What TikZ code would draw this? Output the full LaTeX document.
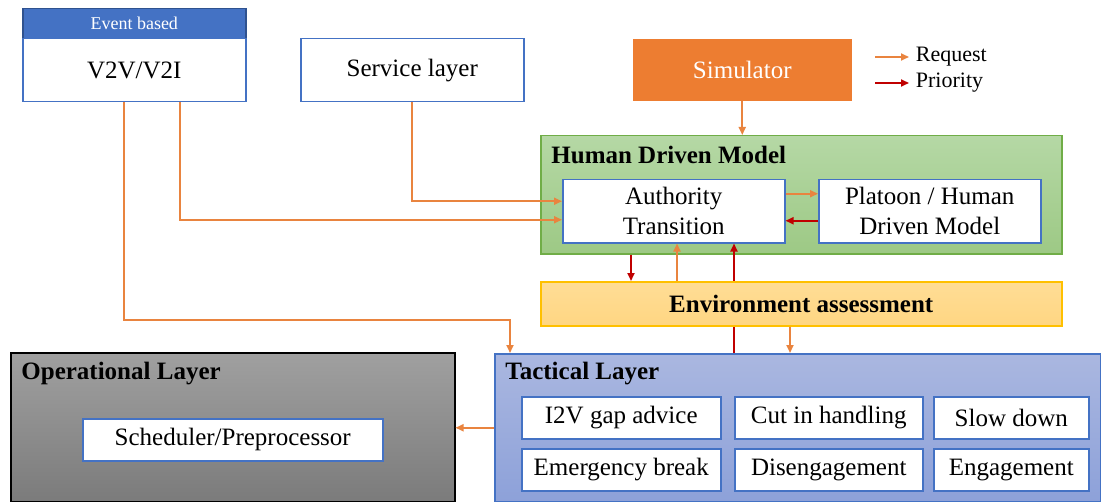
\documentclass[tikz,border=0pt]{standalone}
\usepackage{fontspec}
\setmainfont{Liberation Serif}
\usetikzlibrary{arrows.meta}
\definecolor{boxblue}{HTML}{4472C4}
\definecolor{darkblue}{HTML}{2F528F}
\definecolor{reqorange}{HTML}{E9843F}
\definecolor{prired}{HTML}{C00000}
\definecolor{simorange}{HTML}{ED7D31}
\definecolor{hdmgreen}{HTML}{70AD47}
\definecolor{envgold}{HTML}{FFC000}
\tikzset{
BOX/.style ={draw=boxblue,line width=0.75pt,fill=white,inner sep=0pt,anchor=north west,align=center,font=\fontsize{12.5}{15}\selectfont},
LAYER/.style ={line width=0.75pt,inner sep=0pt,anchor=north west},
TITLE/.style ={anchor=west,inner sep=0pt,font=\bfseries\fontsize{12.5}{14}\selectfont},
REQ/.style ={draw=reqorange,line width=0.9pt,-{Triangle[length=4pt,width=3.5pt]}},
PRI/.style ={draw=prired,line width=0.9pt,-{Triangle[length=4pt,width=3.5pt]}},
}
\begin{document}
\begin{tikzpicture} %layered vehicle architecture
[x=0.5pt,y=-0.5pt]
	\useasboundingbox (0,0) rectangle (1101,502);
	% top row
	\node[BOX,draw=darkblue,fill=boxblue,text=white,minimum width=111.5pt,minimum height=15pt,font=\fontsize{9}{10}\selectfont] (event) at (22,8) {Event based};
	\node[BOX,minimum width=111.5pt,minimum height=31.5pt] (v2v) at (22,38) {V2V/V2I};
	\node[BOX,minimum width=111.5pt,minimum height=31.5pt] (serv) at (300,38) {Service layer};
	\node[BOX,draw=none,fill=simorange,text=white,minimum width=109.5pt,minimum height=31pt] (sim) at (632,38) {Simulator};
	% legend
	\coordinate (lgA) at (875,57);
	\coordinate (lgB) at (875,83);
	\draw[REQ] (lgA) -- ++(34,0) node[right,inner sep=3pt,font=\fontsize{11}{12}\selectfont] (lgreq) {Request};
	\draw[PRI] (lgB) -- ++(34,0) node[right,inner sep=3pt,font=\fontsize{11}{12}\selectfont] (lgpri) {Priority};
	% human driven model
	\node[LAYER,draw=hdmgreen,top color={rgb,255:red,181;green,216;blue,165},bottom color={rgb,255:red,157;green,201;blue,133},minimum width=260.5pt,minimum height=59pt] (hdm) at (540,135) {};
	\node[TITLE] (hdmtitle) at (551,155) {Human Driven Model};
	\node[BOX,minimum width=111pt,minimum height=31.5pt] (auth) at (562,179) {Authority\\Transition};
	\node[BOX,minimum width=111pt,minimum height=31.5pt] (plat) at (818,179) {Platoon / Human\\Driven Model};
	% layers
	\node[LAYER,draw=boxblue,top color={rgb,255:red,170;green,183;blue,224},bottom color={rgb,255:red,141;green,161;blue,217},minimum width=303pt,minimum height=74pt] (tac) at (494,353) {};
	\node[TITLE] (tactitle) at (505,374) {Tactical Layer};
	\node[LAYER,draw=black,top color={rgb,255:red,160;green,160;blue,160},bottom color={rgb,255:red,123;green,123;blue,123},minimum width=222pt,minimum height=74.5pt] (op) at (10,352) {};
	\node[TITLE] (optitle) at (21,374) {Operational Layer};
	\node[BOX,minimum width=150pt,minimum height=21pt] (sched) at (82,418) {Scheduler/Preprocessor};
	\node[BOX,minimum width=99.5pt,minimum height=21pt] (gap) at (521,396) {I2V gap advice};
	\node[BOX,minimum width=94pt,minimum height=21pt] (cut) at (734,396) {Cut in handling};
	\node[BOX,minimum width=77.5pt,minimum height=21pt] (slow) at (933,396) {Slow down};
	\node[BOX,minimum width=99.5pt,minimum height=21pt] (emer) at (521,448) {Emergency break};
	\node[BOX,minimum width=94pt,minimum height=21pt] (dis) at (734,448) {Disengagement};
	\node[BOX,minimum width=77.5pt,minimum height=21pt] (eng) at (933,448) {Engagement};
	% connectors
	\coordinate (vA) at ([xshift=51pt]v2v.south west);
	\coordinate (vB) at ([xshift=79pt]v2v.south west);
	\coordinate (tIn) at ([xshift=8pt]tac.north west);
	\coordinate (aA) at ([xshift=34.5pt]auth.south west);
	\coordinate (aB) at ([xshift=57.5pt]auth.south west);
	\coordinate (aC) at ([xshift=86pt]auth.south west);
	\coordinate (aD) at ([xshift=114pt]auth.south west);
	\draw[PRI] (aC |- tac.north) -- (aC);
	\node[LAYER,draw=envgold,top color={rgb,255:red,255;green,221;blue,150},bottom color={rgb,255:red,255;green,214;blue,130},minimum width=260.5pt,minimum height=22pt] (env) at (540,281) {};
	\node[font=\bfseries\fontsize{12.5}{14}\selectfont,inner sep=0pt] (envtext) at (env.center) {Environment assessment};
	\draw[REQ] (vA) -- (vA |- 0,320) -| (tIn);
	\draw[REQ] (vB) |- ([yshift=-4.25pt]auth.west);
	\draw[REQ] (serv.south) |- ([yshift=5pt]auth.west);
	\draw[REQ] (sim.south) -- (sim.south |- hdm.north);
	\draw[REQ] ([yshift=8.75pt]auth.east) -- ([yshift=8.75pt]plat.west);
	\draw[PRI] ([yshift=-4.75pt]plat.west) -- ([yshift=-4.75pt]auth.east);
	\draw[PRI] (aA |- hdm.south) -- (aA |- env.north);
	\draw[REQ] (aB |- env.north) -- (aB);
	\draw[REQ] (aD |- env.south) -- (aD |- tac.north);
	\draw[REQ] (tac.west) -- (tac.west -| op.east);
\end{tikzpicture}
\end{document}
